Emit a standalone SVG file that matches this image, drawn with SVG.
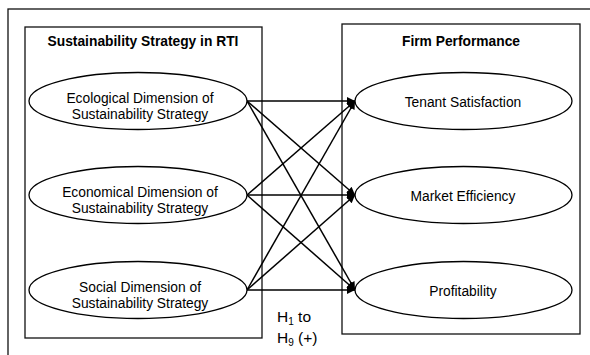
<svg xmlns="http://www.w3.org/2000/svg" width="590" height="355" viewBox="0 0 590 355">
<style>
.frame{fill:none;stroke:#111;stroke-width:1.3}
.ell{fill:#fff;stroke:#000;stroke-width:1.3}
.t{font-family:"Liberation Sans",Arial,sans-serif;font-size:13.8px;fill:#000;text-anchor:middle}
.b{font-weight:bold}
.h{font-family:"Liberation Sans",Arial,sans-serif;font-size:15.5px;fill:#000}
.c{stroke:#000;stroke-width:1.5;fill:none;marker-end:url(#ah)}
</style>
<defs>
<marker id="ah" viewBox="0 0 10 10" refX="10" refY="5" markerWidth="9" markerHeight="8" orient="auto" markerUnits="userSpaceOnUse">
<path d="M0,0 L10,5 L0,10 Z" fill="#000"/>
</marker>
</defs>
<rect width="590" height="355" fill="#fff"/>
<rect class="frame" x="8" y="9" width="600" height="400"/>
<g id="left-box">
<rect class="frame" x="25" y="27" width="237" height="311"/>
<text class="t b" x="143" y="46">Sustainability Strategy in RTI</text>
</g>
<g id="right-box">
<rect class="frame" x="342" y="24" width="238" height="310"/>
<text class="t b" x="461" y="46">Firm Performance</text>
</g>
<g id="connectors">
<line class="c" x1="247" y1="101" x2="355" y2="101"/>
<line class="c" x1="247" y1="101" x2="355" y2="195"/>
<line class="c" x1="247" y1="101" x2="355" y2="290"/>
<line class="c" x1="247" y1="195" x2="355" y2="101"/>
<line class="c" x1="247" y1="195" x2="355" y2="195"/>
<line class="c" x1="247" y1="195" x2="355" y2="290"/>
<line class="c" x1="247" y1="290" x2="355" y2="101"/>
<line class="c" x1="247" y1="290" x2="355" y2="195"/>
<line class="c" x1="247" y1="290" x2="355" y2="290"/>
</g>
<g id="ecological">
<ellipse class="ell" cx="138" cy="101" rx="109" ry="28.5"/>
<text class="t" x="140" y="103">Ecological Dimension of</text>
<text class="t" x="140" y="119">Sustainability Strategy</text>
</g>
<g id="economical">
<ellipse class="ell" cx="138" cy="195" rx="109" ry="28.5"/>
<text class="t" x="140" y="197">Economical Dimension of</text>
<text class="t" x="140" y="213">Sustainability Strategy</text>
</g>
<g id="social">
<ellipse class="ell" cx="138" cy="290" rx="109" ry="28.5"/>
<text class="t" x="140" y="292">Social Dimension of</text>
<text class="t" x="140" y="308">Sustainability Strategy</text>
</g>
<g id="tenant">
<ellipse class="ell" cx="463.5" cy="101" rx="108.5" ry="28.5"/>
<text class="t" x="463" y="107">Tenant Satisfaction</text>
</g>
<g id="market">
<ellipse class="ell" cx="463.5" cy="195" rx="108.5" ry="28.5"/>
<text class="t" x="463" y="201">Market Efficiency</text>
</g>
<g id="profit">
<ellipse class="ell" cx="463.5" cy="290" rx="108.5" ry="28.5"/>
<text class="t" x="463" y="296">Profitability</text>
</g>
<g id="hyp-label">
<text class="h" x="277" y="322">H<tspan font-size="10" dy="3">1</tspan><tspan dy="-3"> to</tspan></text>
<text class="h" x="277" y="343">H<tspan font-size="10" dy="3">9</tspan><tspan dy="-3"> (+)</tspan></text>
</g>
</svg>
